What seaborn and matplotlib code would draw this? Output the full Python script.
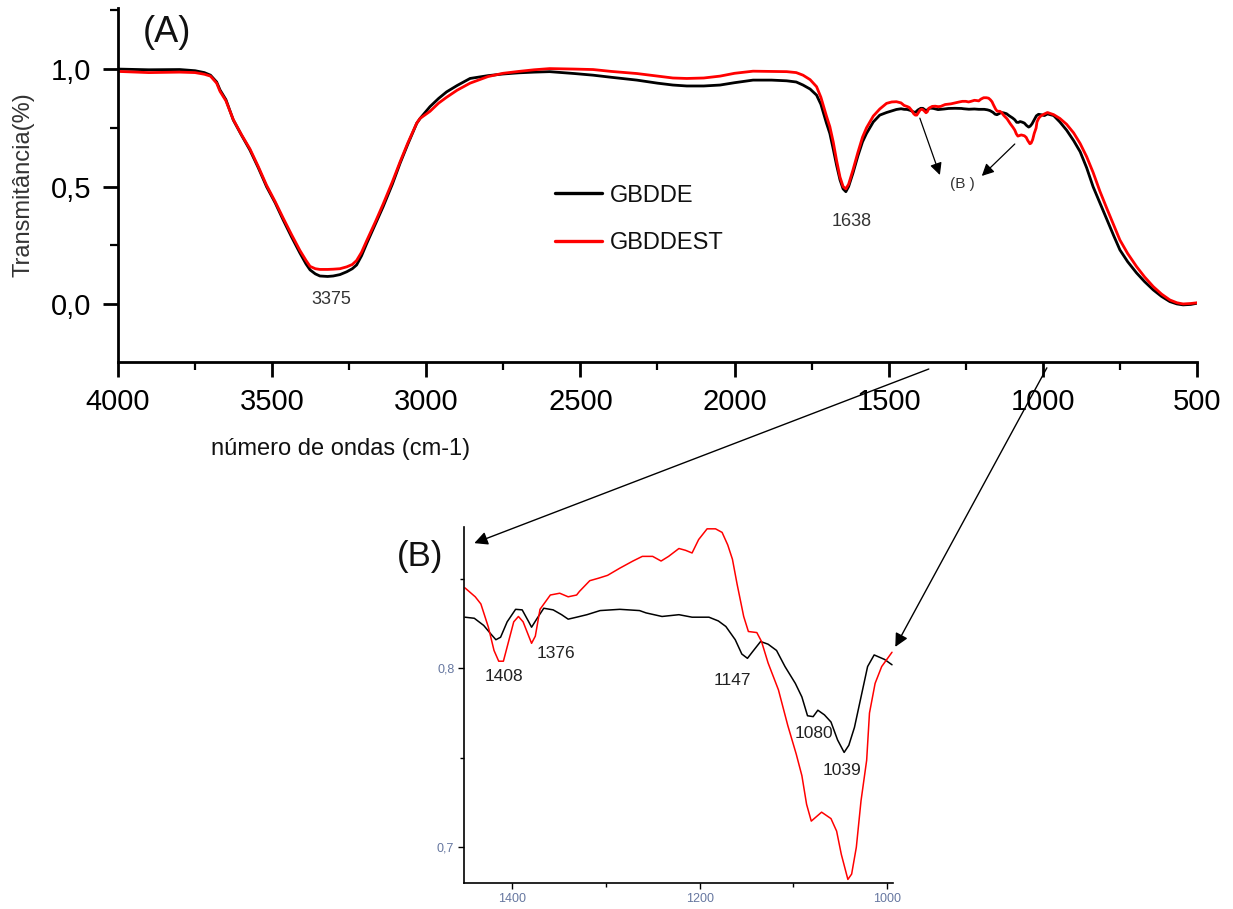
import matplotlib.pyplot as plt
import pandas as pd
import seaborn as sns
from matplotlib.patches import ConnectionPatch
from matplotlib.ticker import MultipleLocator


# full spectrum, high wavenumber part (shared x for both samples)
WN_HI = [4000, 3900, 3800, 3750, 3720, 3700, 3680, 3669, 3650, 3626, 3600, 3572, 3545, 3518,
         3490, 3464, 3437, 3410, 3390, 3377, 3360, 3345, 3320, 3302, 3280, 3258, 3240, 3226,
         3210, 3193, 3165, 3140, 3110, 3085, 3060, 3031, 3020, 2988, 2960, 2934, 2900, 2858,
         2800, 2751, 2700, 2650, 2600, 2520, 2459, 2400, 2317, 2250, 2200, 2155, 2100, 2047,
         2000, 1940, 1880, 1831, 1800, 1778, 1755, 1734, 1720, 1702, 1691, 1680, 1669, 1658,
         1648, 1639, 1630, 1616, 1600, 1585, 1572, 1550, 1529, 1507, 1490, 1475, 1460]
GBDDE_HI = [1.0, 0.997, 0.998, 0.993, 0.985, 0.974, 0.945, 0.911, 0.87, 0.783, 0.72, 0.655, 0.58, 0.499,
            0.43, 0.357, 0.285, 0.217, 0.17, 0.145, 0.128, 0.119, 0.117, 0.119, 0.125, 0.137, 0.15, 0.166,
            0.205, 0.258, 0.34, 0.414, 0.51, 0.599, 0.68, 0.769, 0.79, 0.84, 0.875, 0.903, 0.93, 0.96,
            0.972, 0.979, 0.984, 0.987, 0.989, 0.981, 0.974, 0.965, 0.953, 0.94, 0.932, 0.928, 0.928, 0.932,
            0.942, 0.953, 0.953, 0.95, 0.945, 0.932, 0.915, 0.889, 0.85, 0.77, 0.726, 0.66, 0.59, 0.528,
            0.49, 0.478, 0.5, 0.557, 0.63, 0.69, 0.726, 0.775, 0.804, 0.815, 0.822, 0.828, 0.831]
GBDDEST_HI = [0.99, 0.985, 0.987, 0.985, 0.978, 0.97, 0.94, 0.905, 0.865, 0.785, 0.722, 0.66, 0.585, 0.505,
              0.435, 0.365, 0.295, 0.228, 0.185, 0.16, 0.15, 0.147, 0.147, 0.148, 0.15, 0.158, 0.168, 0.185,
              0.22, 0.27, 0.35, 0.425, 0.52, 0.605, 0.685, 0.77, 0.79, 0.82, 0.855, 0.88, 0.91, 0.94,
              0.968, 0.982, 0.99, 0.997, 1.002, 1.0, 0.998, 0.99, 0.981, 0.97, 0.962, 0.96, 0.962, 0.97,
              0.982, 0.991, 0.99, 0.989, 0.985, 0.974, 0.955, 0.925, 0.88, 0.8, 0.755, 0.69, 0.61, 0.54,
              0.5, 0.49, 0.51, 0.57, 0.645, 0.71, 0.75, 0.8, 0.83, 0.854, 0.86, 0.861, 0.856]

# full spectrum, low wavenumber part
WN_LO = [985, 965, 945, 923, 900, 879, 858, 837, 815, 792, 770, 750, 725, 696, 670, 642, 615, 588,
         565, 545, 520, 500]
GBDDE_LO = [0.809, 0.802, 0.775, 0.74, 0.695, 0.648, 0.58, 0.499, 0.43, 0.357, 0.29, 0.23, 0.18, 0.132,
            0.095, 0.06, 0.032, 0.01, 0.0, -0.004, -0.002, 0.003]
GBDDEST_LO = [0.815, 0.806, 0.79, 0.765, 0.728, 0.683, 0.627, 0.56, 0.48, 0.405, 0.335, 0.272, 0.215, 0.159,
              0.115, 0.074, 0.042, 0.017, 0.005, 0.0, 0.002, 0.005]

# zoomed region (B), 1450-995 cm-1
WN_B_GBDDE = [1450, 1440, 1430, 1423, 1417, 1412, 1405, 1396, 1389, 1382, 1379, 1373, 1366, 1356,
              1347, 1340, 1331, 1320, 1306, 1285, 1264, 1257, 1240, 1222, 1208, 1190, 1180, 1172,
              1162, 1155, 1149, 1144, 1135, 1127, 1118, 1109, 1098, 1091, 1085, 1079, 1074, 1067,
              1060, 1053, 1046, 1041, 1035, 1028, 1021, 1014, 1003, 995]
GBDDE_B = [0.8286, 0.828, 0.824, 0.8196, 0.816, 0.8174, 0.826, 0.833, 0.8327, 0.826, 0.823, 0.828, 0.8336, 0.8327,
           0.83, 0.8275, 0.8286, 0.83, 0.8323, 0.833, 0.8323, 0.831, 0.829, 0.83, 0.8286, 0.8286, 0.8265, 0.8234,
           0.816, 0.808, 0.8056, 0.809, 0.815, 0.8135, 0.81, 0.801, 0.7916, 0.784, 0.7735, 0.773, 0.7766, 0.774,
           0.77, 0.76, 0.753, 0.757, 0.767, 0.784, 0.801, 0.8075, 0.805, 0.802]
WN_B_GBDDEST = [1450, 1439, 1433, 1425, 1419, 1414, 1409, 1403, 1398, 1393, 1388, 1382, 1379, 1375,
                1370, 1359, 1349, 1340, 1331, 1328, 1317, 1307, 1298, 1285, 1271, 1261, 1250, 1241,
                1233, 1222, 1215, 1208, 1201, 1192, 1183, 1176, 1170, 1165, 1160, 1153, 1148, 1139,
                1134, 1127, 1116, 1106, 1097, 1091, 1086, 1081, 1070, 1060, 1054, 1049, 1042, 1038,
                1033, 1028, 1022, 1019, 1013, 1006, 995]
GBDDEST_B = [0.845, 0.84, 0.836, 0.823, 0.81, 0.804, 0.804, 0.816, 0.826, 0.829, 0.826, 0.818, 0.814, 0.818,
             0.833, 0.841, 0.842, 0.84, 0.841, 0.843, 0.849, 0.8505, 0.852, 0.856, 0.86, 0.8626, 0.8626, 0.86,
             0.8626, 0.867, 0.866, 0.8645, 0.872, 0.878, 0.878, 0.876, 0.869, 0.861, 0.847, 0.829, 0.8206, 0.82,
             0.815, 0.803, 0.788, 0.768, 0.752, 0.74, 0.724, 0.7146, 0.7196, 0.716, 0.709, 0.696, 0.682, 0.685,
             0.7, 0.726, 0.7486, 0.775, 0.7916, 0.801, 0.809]

SAMPLES = ["GBDDE", "GBDDEST"]
COLORS = {"GBDDE": "black", "GBDDEST": "red"}

X_TICKS = [4000, 3500, 3000, 2500, 2000, 1500, 1000, 500]
Y_TICKS = [0.0, 0.5, 1.0]
Y_TICKLABELS = ["0,0", "0,5", "1,0"]
B_X_TICKS = [1400, 1200, 1000]
B_Y_TICKS = [0.7, 0.8]
B_Y_TICKLABELS = ["0,7", "0,8"]


def long_frame(parts):
    rows = []
    for name, wn, vals in parts:
        rows += [{"wn": w, "T": v, "amostra": name} for w, v in zip(wn, vals)]
    return pd.DataFrame(rows)


full = long_frame([
    ("GBDDE", WN_HI + WN_B_GBDDE + WN_LO, GBDDE_HI + GBDDE_B + GBDDE_LO),
    ("GBDDEST", WN_HI + WN_B_GBDDEST + WN_LO, GBDDEST_HI + GBDDEST_B + GBDDEST_LO),
])
zoom = long_frame([
    ("GBDDE", WN_B_GBDDE, GBDDE_B),
    ("GBDDEST", WN_B_GBDDEST, GBDDEST_B),
])

sns.set_style("ticks")
plt.rcParams["font.family"] = ["Liberation Sans", "DejaVu Sans"]

fig = plt.figure(figsize=(12.33, 9.09), dpi=100)
ax = fig.add_axes([0.0957, 0.6018, 0.8751, 0.3894])
axin = fig.add_axes([0.3763, 0.0286, 0.3479, 0.3916])

# ---- (A) full spectrum
sns.lineplot(data=full, x="wn", y="T", hue="amostra", hue_order=SAMPLES, palette=COLORS,
             estimator=None, sort=False, linewidth=2.0, ax=ax)
ax.set_xlim(4000, 500)
ax.set_ylim(-0.247, 1.26)
ax.set_xticks(X_TICKS)
ax.set_xticklabels([str(t) for t in X_TICKS])
ax.set_yticks(Y_TICKS)
ax.set_yticklabels(Y_TICKLABELS)
ax.xaxis.set_minor_locator(MultipleLocator(250))
ax.yaxis.set_minor_locator(MultipleLocator(0.25))
ax.tick_params(which="major", length=11, width=2, labelsize=21, pad=8, colors="black")
ax.tick_params(which="minor", length=6, width=1.6, colors="black")
for side in ["top", "right"]:
    ax.spines[side].set_visible(False)
for side in ["left", "bottom"]:
    ax.spines[side].set_linewidth(2)
    ax.spines[side].set_color("black")
ax.set_xlabel("número de ondas (cm-1)", fontsize=17, color="#111111")
ax.xaxis.set_label_coords(0.206, -0.215)
ax.set_ylabel("Transmitância(%)", fontsize=17, color="#333333")
ax.yaxis.set_label_coords(-0.077, 0.5)

sns.move_legend(ax, loc="upper left", bbox_to_anchor=(0.450, 0.797), bbox_transform=fig.transFigure,
                frameon=False, title=None, fontsize=17, handlelength=2.0, handletextpad=0.35,
                labelspacing=1.1, borderaxespad=0, borderpad=0)
for text in ax.get_legend().get_texts():
    text.set_color("#111111")
for line in ax.get_legend().get_lines():
    line.set_linewidth(2.4)

ax.text(3841, 1.157, "(A)", fontsize=26, ha="center", va="center", color="#111111")
ax.text(3309, 0.019, "3375", fontsize=13, ha="center", va="center", color="#333333")
ax.text(1619, 0.353, "1638", fontsize=13, ha="center", va="center", color="#333333")
ax.text(1262, 0.51, "(B )", fontsize=11, ha="center", va="center", color="#333333")
arrow = dict(arrowstyle="-|>", color="black", lw=0.9, mutation_scale=18, shrinkA=0, shrinkB=0)
ax.annotate("", xy=(1334, 0.549), xytext=(1399, 0.791), arrowprops=arrow)
ax.annotate("", xy=(1198, 0.545), xytext=(1091, 0.681), arrowprops=arrow)

# ---- (B) zoomed region
sns.lineplot(data=zoom, x="wn", y="T", hue="amostra", hue_order=SAMPLES, palette=COLORS,
             estimator=None, sort=False, linewidth=1.1, legend=False, ax=axin)
axin.set_xlim(1451, 994)
axin.set_ylim(0.68, 0.879)
axin.set_xticks(B_X_TICKS)
axin.set_xticklabels([str(t) for t in B_X_TICKS])
axin.set_yticks(B_Y_TICKS)
axin.set_yticklabels(B_Y_TICKLABELS)
axin.xaxis.set_minor_locator(MultipleLocator(100))
axin.yaxis.set_minor_locator(MultipleLocator(0.05))
axin.tick_params(which="major", length=4, width=1, labelsize=9, color="black",
                 labelcolor="#6677a0", pad=3)
axin.tick_params(which="minor", length=3, width=1, color="black")
for side in ["top", "right"]:
    axin.spines[side].set_visible(False)
for side in ["left", "bottom"]:
    axin.spines[side].set_linewidth(1.2)
    axin.spines[side].set_color("black")
axin.set_xlabel("")
axin.set_ylabel("")

for label, wn, val in [("1408", 1408, 0.7955), ("1376", 1352.6, 0.8084), ("1147", 1165.3, 0.7933),
                       ("1080", 1078.5, 0.7637), ("1039", 1048.4, 0.743)]:
    axin.text(wn, val, label, fontsize=12.5, ha="center", va="center", color="#222222")
fig.text(0.3406, 0.3883, "(B)", fontsize=25, ha="center", va="center", color="#111111")

# connectors from the full spectrum to the zoomed panel
for tail, head in [((1370, -0.277), (1440, 0.870)), ((987, -0.272), (991.5, 0.812))]:
    con = ConnectionPatch(xyA=tail, coordsA=ax.transData, xyB=head, coordsB=axin.transData,
                          arrowstyle="-|>", mutation_scale=20, lw=1.0, color="black")
    fig.add_artist(con)

fig.savefig("out.png", dpi=100)
